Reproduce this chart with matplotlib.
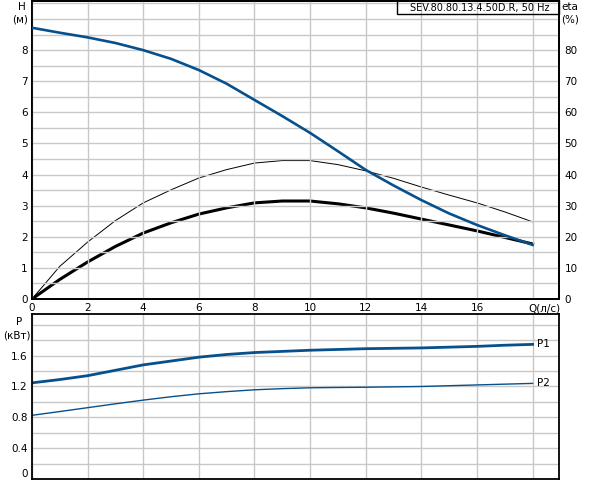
import numpy as np
import matplotlib
matplotlib.use("Agg")
import matplotlib.pyplot as plt
from matplotlib.patches import Rectangle

# flow, л/с
q = [0, 1, 2, 3, 4, 5, 6, 7, 8, 9, 10, 11, 12, 13, 14, 15, 16, 17, 18]
# head, м
head = [8.72, 8.56, 8.41, 8.23, 8.0, 7.72, 7.36, 6.92, 6.40, 5.88, 5.34,
        4.75, 4.15, 3.65, 3.18, 2.75, 2.38, 2.05, 1.74]
# efficiency, % (thin = pump, thick = total)
eta_pump = [0, 10.5, 18.3, 25.2, 30.9, 35.1, 38.9, 41.6, 43.7, 44.5, 44.5,
            43.2, 41.2, 38.8, 36.0, 33.4, 30.9, 28.0, 24.8]
eta_total = [0, 6.3, 11.9, 16.9, 21.2, 24.5, 27.3, 29.3, 30.9, 31.5, 31.5,
             30.6, 29.3, 27.6, 25.7, 23.8, 21.9, 19.8, 17.7]
# power, кВт
p1 = [1.247, 1.29, 1.34, 1.41, 1.48, 1.53, 1.58, 1.615, 1.64, 1.655, 1.67,
      1.68, 1.69, 1.695, 1.70, 1.71, 1.72, 1.735, 1.746]
p2 = [0.826, 0.875, 0.925, 0.975, 1.023, 1.067, 1.105, 1.133, 1.157, 1.172,
      1.183, 1.187, 1.19, 1.195, 1.20, 1.21, 1.22, 1.23, 1.24]

title = "SEV.80.80.13.4.50D.R, 50 Hz"
blue = "#07508c"
grid_c = "#c8c8c8"
fs = 7.5

W, H = 592, 480
plt.rcParams['font.family'] = 'DejaVu Sans'
fig = plt.figure(figsize=(W / 100, H / 100), dpi=100)


def frac(x0, y0, x1, y1):
    # pixel box -> figure fraction
    return [x0 / W, 1 - y1 / H, (x1 - x0) / W, (y1 - y0) / H]


# top panel: head + efficiency
ax = fig.add_axes(frac(32, 1, 559, 299))
ax2 = ax.twinx()
ax2.plot(q, eta_pump, color="black", lw=0.7)
ax2.plot(q, eta_total, color="black", lw=2.2)
ax.plot(q, head, color=blue, lw=1.9, zorder=5)
ax.set_zorder(ax2.get_zorder() + 1)
ax.patch.set_visible(False)
ax2.patch.set_visible(True)

ax.set_xlim(0, 18.95)
ax.set_ylim(0, 9.58)
ax2.set_ylim(0, 95.8)
ax.set_xticks(np.arange(0, 19, 2))
ax.set_xticklabels([str(v) for v in range(0, 18, 2)] + [""])
hy = np.arange(0, 9.6, 0.5)
ax.set_yticks(hy)
ax.set_yticklabels([str(int(v)) if v == int(v) and v <= 8 else "" for v in hy])
ax.grid(True, color=grid_c, lw=1)
ax.tick_params(length=0, labelsize=fs, pad=3)
ax.text(17.85, -0.15, "Q(л/с)", fontsize=fs, ha="left", va="top")

ax2.set_yticks(np.arange(0, 81, 10))
ax2.tick_params(length=0, labelsize=fs, pad=4)

for a in (ax, ax2):
    for s in a.spines.values():
        s.set_linewidth(1.3)

fig.text(22 / W, 1 - 7 / H, "H", fontsize=fs, ha="center", va="center")
fig.text(20 / W, 1 - 20 / H, "(м)", fontsize=fs, ha="center", va="center")
fig.text(570 / W, 1 - 7 / H, "eta", fontsize=fs, ha="center", va="center")
fig.text(570 / W, 1 - 20 / H, "(%)", fontsize=fs, ha="center", va="center")

fig.patches.append(Rectangle((397 / W, 1 - 14 / H), 162 / W, 14 / H,
                             transform=fig.transFigure, fill=False,
                             edgecolor="black", lw=1.0))
fig.text(480 / W, 1 - 7.5 / H, title, fontsize=7, ha="center", va="center")

# bottom panel: power
bx = fig.add_axes(frac(32, 314, 559, 479))
bx.plot(q, p1, color=blue, lw=2.0)
bx.plot(q, p2, color=blue, lw=1.0)
bx.text(18.15, p1[-1], "P1", fontsize=fs, ha="left", va="center")
bx.text(18.15, p2[-1], "P2", fontsize=fs, ha="left", va="center")
bx.set_xlim(0, 18.95)
bx.set_ylim(0, 2.14)
bx.set_xticks(np.arange(0, 19, 2))
bx.set_xticklabels([])
yt = np.arange(0, 2.01, 0.2)
bx.set_yticks(yt)
bx.set_yticklabels(["0" if i == 0 else (f"{v:.1f}" if i % 2 == 0 and v < 1.7 else "")
                    for i, v in enumerate(yt)])
bx.get_yticklabels()[0].set_va("bottom")
bx.grid(True, color=grid_c, lw=1)
bx.tick_params(length=0, labelsize=fs, pad=3)
for s in bx.spines.values():
    s.set_linewidth(1.3)

fig.text(19 / W, 1 - 322 / H, "P", fontsize=fs, ha="center", va="center")
fig.text(17 / W, 1 - 335 / H, "(кВт)", fontsize=fs, ha="center", va="center")

fig.savefig("out.png", dpi=100)
